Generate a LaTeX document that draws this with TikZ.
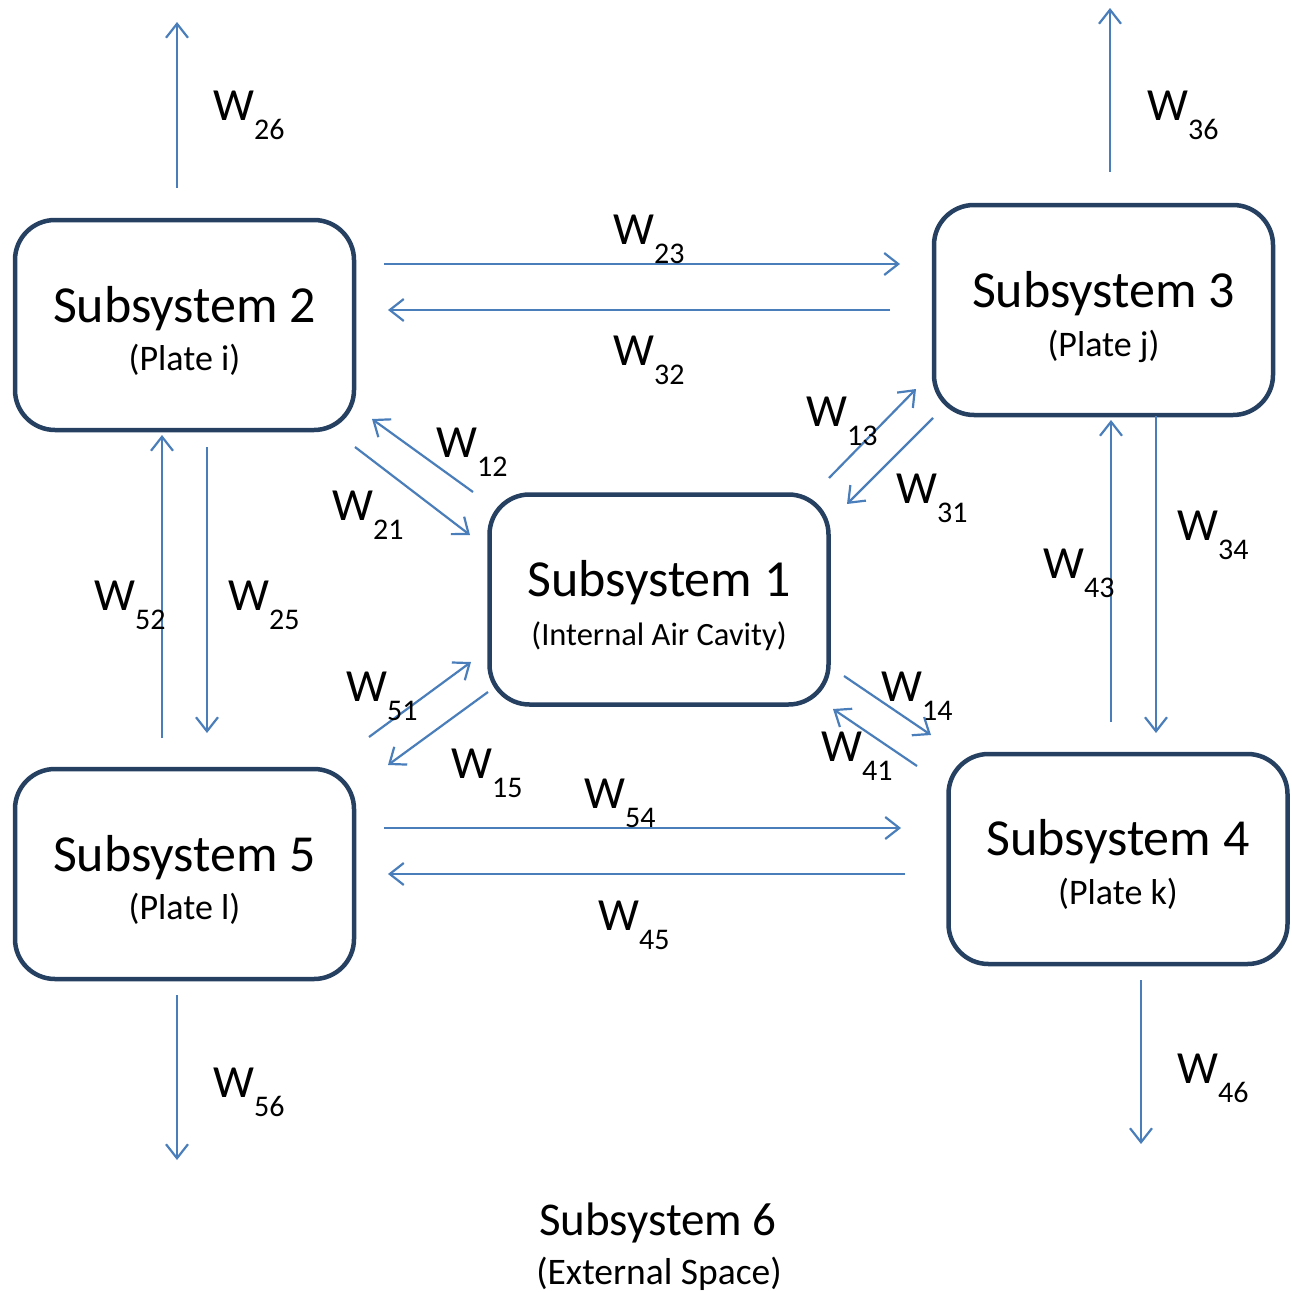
\documentclass[tikz,border=0pt]{standalone}
\usepackage{fontspec}
\setmainfont{Carlito}
\usetikzlibrary{arrows.meta}
\definecolor{boxblue}{RGB}{38,64,98}
\definecolor{arrblue}{RGB}{74,126,187}
\newcommand{\Wlab}[1]{{\fontsize{46}{46}\selectfont W}\kern0pt\raisebox{-19pt}{\fontsize{30}{30}\selectfont #1}}
\begin{document}
\begin{tikzpicture}[x=1pt,y=-1pt,
  sbox/.style={draw=boxblue,line width=4.5pt,rounded corners=40pt,minimum width=339pt,minimum height=210pt,inner sep=0pt},
  big/.style={anchor=base,inner sep=0pt,font=\fontsize{52}{52}\selectfont},
  small/.style={anchor=base,inner sep=0pt,font=\fontsize{36}{36}\selectfont},
  flow/.style={draw=arrblue,line width=2.2pt,-{Straight Barb[length=14pt,width=22pt,line width=2.2pt]}},
  wl/.style={anchor=base west,inner sep=0pt}]
\useasboundingbox (0,0) rectangle (1291,1292);
% boxes
\node[sbox] (S2) at (184.5,325) {};
\node[sbox] (S3) at (1103.5,310) {};
\node[sbox] (S1) at (659,599.5) {};
\node[sbox] (S5) at (184.5,874) {};
\node[sbox] (S4) at (1118,859) {};
% box texts
\node[big] (S2a) at (184.5,322) {Subsystem 2};
\node[small] (S2b) at (184.5,370) {(Plate i)};
\node[big] (S3a) at (1103.5,307) {Subsystem 3};
\node[small] (S3b) at (1103.5,356) {(Plate j)};
\node[big] (S1a) at (659,596) {Subsystem 1};
\node[anchor=base,inner sep=0pt,font=\fontsize{32.5}{32.5}\selectfont] (S1b) at (659,645) {(Internal Air Cavity)};
\node[big] (S4a) at (1118,855) {Subsystem 4};
\node[small] (S4b) at (1118,904) {(Plate k)};
\node[big] (S5a) at (184.5,871) {Subsystem 5};
\node[small] (S5b) at (184.5,919) {(Plate l)};
\node[anchor=base,inner sep=0pt,font=\fontsize{47}{47}\selectfont] (S6a) at (658,1235) {Subsystem 6};
\node[anchor=base,inner sep=0pt,font=\fontsize{37.5}{37.5}\selectfont] (S6b) at (659,1284) {(External Space)};
% connector end points
\coordinate (a26s) at (177,188); \coordinate (a26e) at (177,22);
\coordinate (a36s) at (1110,172); \coordinate (a36e) at (1110,8);
\coordinate (a23s) at (384,264); \coordinate (a23e) at (900,264);
\coordinate (a32s) at (890,310); \coordinate (a32e) at (388,310);
\coordinate (a12s) at (473,492); \coordinate (a12e) at (372,419);
\coordinate (a21s) at (355,447); \coordinate (a21e) at (470,535);
\coordinate (a13s) at (829,478); \coordinate (a13e) at (916,389);
\coordinate (a31s) at (933,418); \coordinate (a31e) at (847,504);
\coordinate (a52s) at (162,738); \coordinate (a52e) at (162,435);
\coordinate (a25s) at (207,447); \coordinate (a25e) at (207,733);
\coordinate (a43s) at (1111,722); \coordinate (a43e) at (1111,420);
\coordinate (a34s) at (1156,416); \coordinate (a34e) at (1156,733);
\coordinate (a51s) at (369,737); \coordinate (a51e) at (471,662);
\coordinate (a15s) at (488,692); \coordinate (a15e) at (388,765);
\coordinate (a14s) at (844,676); \coordinate (a14e) at (931,735);
\coordinate (a41s) at (917,766); \coordinate (a41e) at (833,709);
\coordinate (a54s) at (384,828); \coordinate (a54e) at (901,828);
\coordinate (a45s) at (905,874); \coordinate (a45e) at (388,874);
\coordinate (a56s) at (177,995); \coordinate (a56e) at (177,1160);
\coordinate (a46s) at (1141,980); \coordinate (a46e) at (1141,1144);
% connectors
\foreach \k in {26,36,23,32,12,21,13,31,52,25,43,34,51,15,14,41,54,45,56,46}
  \draw[flow] (a\k s) -- (a\k e);
% labels
\node[wl] (L26) at (213,121) {\Wlab{26}};
\node[wl] (L36) at (1147,121) {\Wlab{36}};
\node[wl] (L23) at (613,244) {\Wlab{23}};
\node[wl] (L32) at (613,365) {\Wlab{32}};
\node[wl] (L12) at (436,457) {\Wlab{12}};
\node[wl] (L21) at (332,520) {\Wlab{21}};
\node[wl] (L13) at (806,426) {\Wlab{13}};
\node[wl] (L31) at (896,503) {\Wlab{31}};
\node[wl] (L52) at (94,610) {\Wlab{52}};
\node[wl] (L25) at (228,610) {\Wlab{25}};
\node[wl] (L43) at (1043,578) {\Wlab{43}};
\node[wl] (L34) at (1177,540) {\Wlab{34}};
\node[wl] (L51) at (346,701) {\Wlab{51}};
\node[wl] (L15) at (451,778) {\Wlab{15}};
\node[wl] (L14) at (881,701) {\Wlab{14}};
\node[wl] (L41) at (821,761) {\Wlab{41}};
\node[wl] (L54) at (584,808) {\Wlab{54}};
\node[wl] (L45) at (598,930) {\Wlab{45}};
\node[wl] (L56) at (213,1097) {\Wlab{56}};
\node[wl] (L46) at (1177,1083) {\Wlab{46}};
\end{tikzpicture}
\end{document}
